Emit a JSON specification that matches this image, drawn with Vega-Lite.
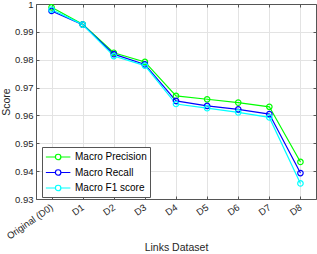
{
  "$schema": "https://vega.github.io/schema/vega-lite/v6.json",
  "width": 280,
  "height": 195,
  "autosize": {"type": "none"},
  "padding": {"left": 36, "top": 4, "right": 1, "bottom": 55},
  "background": "white",
  "config": {
    "font": "Liberation Sans",
    "view": {"stroke": null},
    "axis": {"labelFont": "Liberation Sans", "titleFont": "Liberation Sans", "labelFontSize": 9.5, "titleFontSize": 10.5, "titleFontWeight": "normal", "labelColor": "#262626", "titleColor": "#262626", "domainColor": "#555555", "tickColor": "#555555", "gridColor": "#e3e3e3"}
  },
  "data": {"values": [
    {"d": "Original (D0)", "s": "Macro Precision", "v": 0.9988},
    {"d": "D1", "s": "Macro Precision", "v": 0.9927},
    {"d": "D2", "s": "Macro Precision", "v": 0.9825},
    {"d": "D3", "s": "Macro Precision", "v": 0.9792},
    {"d": "D4", "s": "Macro Precision", "v": 0.9670},
    {"d": "D5", "s": "Macro Precision", "v": 0.9658},
    {"d": "D6", "s": "Macro Precision", "v": 0.9646},
    {"d": "D7", "s": "Macro Precision", "v": 0.9631},
    {"d": "D8", "s": "Macro Precision", "v": 0.9433},
    {"d": "Original (D0)", "s": "Macro Recall", "v": 0.9975},
    {"d": "D1", "s": "Macro Recall", "v": 0.9926},
    {"d": "D2", "s": "Macro Recall", "v": 0.9820},
    {"d": "D3", "s": "Macro Recall", "v": 0.9783},
    {"d": "D4", "s": "Macro Recall", "v": 0.9652},
    {"d": "D5", "s": "Macro Recall", "v": 0.9634},
    {"d": "D6", "s": "Macro Recall", "v": 0.9622},
    {"d": "D7", "s": "Macro Recall", "v": 0.9605},
    {"d": "D8", "s": "Macro Recall", "v": 0.9393},
    {"d": "Original (D0)", "s": "Macro F1 score", "v": 0.9980},
    {"d": "D1", "s": "Macro F1 score", "v": 0.9926},
    {"d": "D2", "s": "Macro F1 score", "v": 0.9813},
    {"d": "D3", "s": "Macro F1 score", "v": 0.9779},
    {"d": "D4", "s": "Macro F1 score", "v": 0.9641},
    {"d": "D5", "s": "Macro F1 score", "v": 0.9626},
    {"d": "D6", "s": "Macro F1 score", "v": 0.9611},
    {"d": "D7", "s": "Macro F1 score", "v": 0.9593},
    {"d": "D8", "s": "Macro F1 score", "v": 0.9356}
  ]},
  "layer": [
    {
      "mark": {"type": "line", "strokeWidth": 1.2, "point": {"filled": false, "size": 30, "strokeWidth": 1.2}},
      "encoding": {
        "x": {"field": "d", "type": "nominal", "sort": ["Original (D0)", "D1", "D2", "D3", "D4", "D5", "D6", "D7", "D8"],
              "scale": {"type": "point", "padding": 0.5},
              "axis": {"title": "Links Dataset", "labelAngle": -35, "labelAlign": "right", "labelBaseline": "middle", "grid": true, "tickSize": -3, "labelPadding": 10, "titleY": 51, "titleBaseline": "alphabetic", "domainWidth": 1}},
        "y": {"field": "v", "type": "quantitative", "scale": {"domain": [0.93, 1], "nice": false, "zero": false},
              "axis": {"title": "Score", "values": [0.93, 0.94, 0.95, 0.96, 0.97, 0.98, 0.99, 1], "format": ".2~f", "grid": true, "tickSize": -3, "labelPadding": 6, "titlePadding": 3}},
        "color": {"field": "s", "type": "nominal",
                  "scale": {"domain": ["Macro Precision", "Macro Recall", "Macro F1 score"], "range": ["#00ff00", "#0000ff", "#00ffff"]},
                  "legend": {"title": null, "orient": "none", "legendX": 6, "legendY": 143, "padding": 3, "strokeColor": "#555555", "fillColor": "white",
                             "labelFontSize": 10, "labelColor": "#000000", "labelFont": "Liberation Sans", "rowPadding": 2.5,
                             "symbolType": "M-1,0H0.55M1.45,0H3M1.45,0A0.45,0.45 0 1,1 0.55,0A0.45,0.45 0 1,1 1.45,0", "symbolSize": 150, "symbolStrokeWidth": 1.2, "symbolFillColor": "transparent", "labelOffset": 16}}
      }
    },
    {
      "mark": {"type": "line", "opacity": 0},
      "encoding": {
        "x": {"field": "d", "type": "nominal", "sort": ["Original (D0)", "D1", "D2", "D3", "D4", "D5", "D6", "D7", "D8"],
              "axis": {"orient": "top", "labels": false, "title": null, "grid": false, "tickSize": -3}},
        "y": {"field": "v", "type": "quantitative",
              "axis": {"orient": "right", "labels": false, "title": null, "grid": false, "tickSize": -3, "values": [0.93, 0.94, 0.95, 0.96, 0.97, 0.98, 0.99, 1]}},
        "detail": {"field": "s"}
      }
    }
  ],
  "resolve": {"axis": {"x": "independent", "y": "independent"}}
}
